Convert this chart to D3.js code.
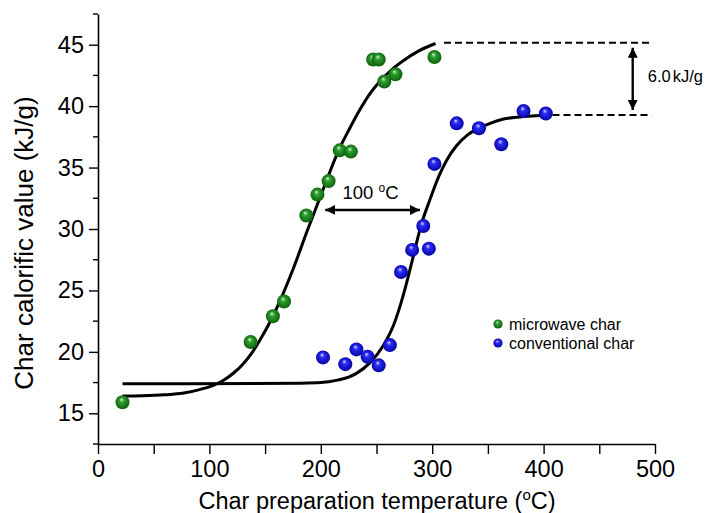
<!doctype html>
<html lang="en">
<head>
  <meta charset="UTF-8">
  <title>Char calorific value</title>
  <style>
    body { margin: 0; background: #fff; }
    svg { font-family: "Liberation Sans", Arial, sans-serif; }
  </style>
</head>
<body>
<div class="chart"></div>
<script src="https://d3js.org/d3.v7.min.js"></script>
<script>
  // measured points (temperature in C, calorific value in kJ/g)
  const microwaveTemp = [22, 137, 157, 167, 187, 197, 207, 217, 227, 247, 252, 257, 267, 302]
  const microwaveValue = [15.9, 20.8, 22.9, 24.1, 31.1, 32.8, 33.9, 36.4, 36.3, 43.8, 43.8, 42.0, 42.6, 44.0]

  const conventionalTemp = [202, 222, 232, 242, 252, 262, 272, 282, 292, 297, 302, 322, 342, 362, 382, 402]
  const conventionalValue = [19.55, 19.0, 20.2, 19.6, 18.9, 20.55, 26.5, 28.3, 30.25, 28.4, 35.3, 38.6, 38.2, 36.9, 39.6, 39.4]

  // fitted curves
  const microwaveFitTemp = [22, 40, 60, 77, 92, 104, 112, 122, 130, 138, 145, 157, 166, 175, 188, 202, 217, 226, 235, 244, 253, 264, 274, 288, 303]
  const microwaveFitValue = [16.4, 16.42, 16.5, 16.65, 16.95, 17.3, 17.65, 18.3, 19.0, 19.9, 20.9, 22.9, 24.7, 26.7, 29.9, 33.2, 36.6, 38.2, 39.7, 41.0, 42.0, 43.0, 43.7, 44.5, 45.1]

  const conventionalFitTemp = [22, 80, 140, 180, 200, 215, 225, 232, 244, 256, 265, 274, 282, 290, 298, 306, 313, 322, 331, 342, 352, 364, 376, 390, 403]
  const conventionalFitValue = [17.4, 17.4, 17.42, 17.45, 17.5, 17.7, 17.95, 18.25, 19.1, 20.5, 22.1, 24.6, 27.4, 30.3, 32.4, 34.3, 35.6, 36.8, 37.6, 38.2, 38.6, 38.95, 39.1, 39.2, 39.25]

  const xTicks = [0, 100, 200, 300, 400, 500]
  const yTicks = [15, 20, 25, 30, 35, 40, 45]
  const legendLabels = ['microwave char', 'conventional char']

  const plateauHigh = 45.16
  const plateauLow = 39.28

  const width = 705
  const height = 513

  const x = d3.scaleLinear().domain([0, 500]).range([98, 655])
  const y = d3.scaleLinear().domain([12.5, 47.5]).range([444, 14])

  const svg = d3.select('.chart')
    .append('svg')
    .attr('width', width)
    .attr('height', height)

  const defs = svg.append('defs')

  const sphere = (id, light, mid, dark) => {
    const g = defs.append('radialGradient')
      .attr('id', id)
      .attr('cx', '50%').attr('cy', '50%').attr('r', '55%')
      .attr('fx', '42%').attr('fy', '30%')
    g.append('stop').attr('offset', '0%').attr('stop-color', light)
    g.append('stop').attr('offset', '30%').attr('stop-color', mid)
    g.append('stop').attr('offset', '100%').attr('stop-color', dark)
  }
  sphere('green-ball', '#d8f5d8', '#2f9f2f', '#0a5a0a')
  sphere('blue-ball', '#dcdcff', '#2b2bf5', '#00009a')

  defs.append('marker')
    .attr('id', 'head')
    .attr('viewBox', '0 0 10 10')
    .attr('refX', 10)
    .attr('refY', 5)
    .attr('markerWidth', 4.2)
    .attr('markerHeight', 4.2)
    .attr('orient', 'auto-start-reverse')
    .append('path')
    .attr('d', 'M0,0L10,5L0,10Z')
    .attr('fill', '#000')

  // axes
  const xAxis = svg.append('g')
    .attr('transform', `translate(0, ${y(12.5)})`)
    .call(d3.axisBottom(x).tickValues(d3.range(0, 501, 50)).tickSize(10).tickSizeOuter(0).tickFormat(d => xTicks.includes(d) ? d : ''))
  xAxis.select('.domain').attr('stroke-width', 1.6)
  xAxis.selectAll('.tick line').attr('stroke-width', 1.4)
  xAxis.selectAll('.tick text')
    .attr('font-size', 23.5)
    .attr('dy', null)
    .attr('y', 33)
    .attr('fill', '#000')

  const yAxis = svg.append('g')
    .attr('transform', `translate(${x(0)}, 0)`)
    .call(d3.axisLeft(y).tickValues(yTicks).tickSize(9).tickSizeOuter(0))
  yAxis.select('.domain').attr('stroke-width', 1.6)
  yAxis.selectAll('.tick line').attr('stroke-width', 1.4)
  yAxis.selectAll('.tick text')
    .attr('font-size', 23.5)
    .attr('x', -14)
    .attr('fill', '#000')

  svg.append('g')
    .selectAll('line')
    .data(d3.range(12.5, 47.6, 5))
    .join('line')
    .attr('x1', x(0) - 5)
    .attr('x2', x(0))
    .attr('y1', d => y(d))
    .attr('y2', d => y(d))
    .attr('stroke', '#000')
    .attr('stroke-width', 1.4)

  svg.append('text')
    .attr('transform', 'translate(33, 243) rotate(-90)')
    .attr('text-anchor', 'middle')
    .attr('font-size', 26)
    .text('Char calorific value (kJ/g)')

  const xLabel = svg.append('text')
    .attr('x', 377)
    .attr('y', 509)
    .attr('text-anchor', 'middle')
    .attr('font-size', 23.5)
  xLabel.append('tspan').text('Char preparation temperature (')
  xLabel.append('tspan').attr('font-size', 15).attr('dy', -9).text('o')
  xLabel.append('tspan').attr('dy', 9).text('C)')

  // fitted curves
  const line = d3.line()
    .x(d => x(d[0]))
    .y(d => y(d[1]))
    .curve(d3.curveMonotoneX)

  svg.append('path')
    .datum(microwaveFitTemp.map((t, i) => [t, microwaveFitValue[i]]))
    .attr('d', line)
    .attr('fill', 'none')
    .attr('stroke', '#000')
    .attr('stroke-width', 3)

  svg.append('path')
    .datum(conventionalFitTemp.map((t, i) => [t, conventionalFitValue[i]]))
    .attr('d', line)
    .attr('fill', 'none')
    .attr('stroke', '#000')
    .attr('stroke-width', 3)

  // plateau guides
  svg.append('line')
    .attr('x1', x(310.6)).attr('x2', x(497))
    .attr('y1', y(plateauHigh)).attr('y2', y(plateauHigh))
    .attr('stroke', '#000').attr('stroke-width', 2).attr('stroke-dasharray', '7,4')
  svg.append('line')
    .attr('x1', x(408)).attr('x2', x(497))
    .attr('y1', y(plateauLow)).attr('y2', y(plateauLow))
    .attr('stroke', '#000').attr('stroke-width', 2).attr('stroke-dasharray', '7,4')

  svg.append('line')
    .attr('x1', x(480)).attr('x2', x(480))
    .attr('y1', y(plateauHigh) + 5).attr('y2', y(plateauLow) - 5)
    .attr('stroke', '#000').attr('stroke-width', 2.4)
    .attr('marker-start', 'url(#head)')
    .attr('marker-end', 'url(#head)')

  const gap = svg.append('text')
    .attr('x', x(493.5))
    .attr('y', y(41.96))
    .attr('font-size', 16.5)
  gap.append('tspan').text('6.0')
  gap.append('tspan').attr('dx', 2).text('kJ/g')

  svg.append('line')
    .attr('x1', x(204)).attr('x2', x(289))
    .attr('y1', y(31.55)).attr('y2', y(31.55))
    .attr('stroke', '#000').attr('stroke-width', 2.4)
    .attr('marker-start', 'url(#head)')
    .attr('marker-end', 'url(#head)')

  const deltaT = svg.append('text')
    .attr('x', x(219.5))
    .attr('y', y(32.44))
    .attr('font-size', 18.5)
  deltaT.append('tspan').text('100 ')
  deltaT.append('tspan').attr('font-size', 12).attr('dy', -7).text('o')
  deltaT.append('tspan').attr('dy', 7).text('C')

  // points
  svg.append('g')
    .selectAll('circle')
    .data(microwaveTemp.map((t, i) => [t, microwaveValue[i]]))
    .join('circle')
    .attr('cx', d => x(d[0]))
    .attr('cy', d => y(d[1]))
    .attr('r', 7)
    .attr('fill', 'url(#green-ball)')

  svg.append('g')
    .selectAll('circle')
    .data(conventionalTemp.map((t, i) => [t, conventionalValue[i]]))
    .join('circle')
    .attr('cx', d => x(d[0]))
    .attr('cy', d => y(d[1]))
    .attr('r', 7)
    .attr('fill', 'url(#blue-ball)')

  // legend
  const legend = svg.append('g')
    .attr('transform', 'translate(498, 324)')
    .selectAll('g')
    .data(legendLabels)
    .join('g')
    .attr('transform', (d, i) => `translate(0, ${i * 19})`)
  legend.append('circle')
    .attr('r', 4.6)
    .attr('fill', (d, i) => i === 0 ? 'url(#green-ball)' : 'url(#blue-ball)')
  legend.append('text')
    .attr('x', 11)
    .attr('y', 5.5)
    .attr('font-size', 16)
    .text(d => d)
</script>
</body>
</html>
